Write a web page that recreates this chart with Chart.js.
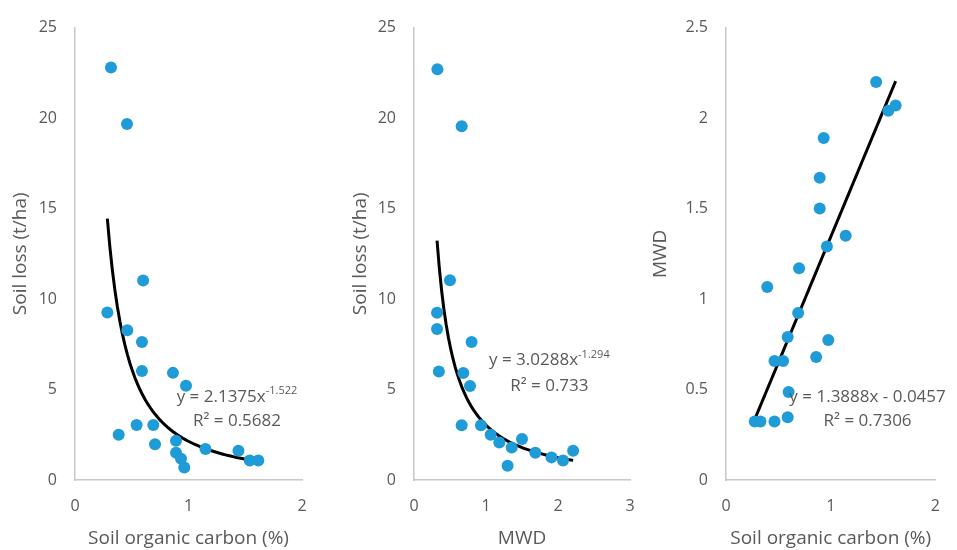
<!DOCTYPE html>
<html>
<head>
<meta charset="utf-8">
<script src="https://cdn.jsdelivr.net/npm/chart.js@4"></script>
<style>
  html, body { margin: 0; padding: 0; background: #fff; }
  #wrap { position: relative; width: 957px; height: 550px; overflow: hidden; }
  #wrap canvas { position: absolute; left: 0; top: 0; }
</style>
</head>
<body>
<div id="wrap">
  <canvas id="c1" width="957" height="550"></canvas>
  <canvas id="c2" width="957" height="550"></canvas>
  <canvas id="c3" width="957" height="550"></canvas>
</div>
<script>
// Panel 1: soil organic carbon (%) vs soil loss (t/ha)
const socX = [0.317, 0.458, 0.60, 0.285, 0.461, 0.59, 0.59, 0.863, 0.978, 0.543, 0.69,
  0.385, 0.705, 0.89, 0.89, 0.934, 0.963, 1.15, 1.44, 1.54, 1.615];
const soilLossA = [22.8, 19.67, 11.02, 9.25, 8.27, 7.63, 6.02, 5.92, 5.21, 3.04, 3.04,
  2.5, 1.98, 2.17, 1.5, 1.17, 0.69, 1.71, 1.62, 1.08, 1.08];

// Panel 2: MWD vs soil loss (t/ha)
const mwdX = [0.325, 0.662, 0.5, 0.32, 0.32, 0.80, 0.345, 0.685, 0.778, 0.662, 0.93,
  1.065, 1.185, 1.357, 1.5, 1.685, 1.91, 2.07, 2.21, 1.30];
const soilLossB = [22.7, 19.55, 11.04, 9.24, 8.35, 7.62, 6.0, 5.91, 5.2, 3.03, 3.03,
  2.5, 2.07, 1.79, 2.27, 1.5, 1.25, 1.08, 1.61, 0.79];

// Panel 3: soil organic carbon (%) vs MWD
const socX3 = [1.434, 1.55, 1.62, 0.933, 0.895, 0.895, 1.143, 0.964, 0.698, 0.394, 0.689,
  0.589, 0.977, 0.861, 0.463, 0.545, 0.598, 0.275, 0.329, 0.463, 0.589];
const mwdY = [2.20, 2.04, 2.07, 1.89, 1.67, 1.50, 1.35, 1.29, 1.17, 1.066, 0.923,
  0.79, 0.774, 0.68, 0.658, 0.658, 0.486, 0.323, 0.323, 0.323, 0.347];

// Trendline coefficients as printed on the chart
const fitA = { a: 2.1375, b: -1.522, eq: 'y = 2.1375x', sup: '-1.522', r2: 'R\u00b2 = 0.5682' };
const fitB = { a: 3.0288, b: -1.294, eq: 'y = 3.0288x', sup: '-1.294', r2: 'R\u00b2 = 0.733' };
const fitC = { a: 1.3888, b: -0.0457, eq: 'y = 1.3888x - 0.0457', sup: '', r2: 'R\u00b2 = 0.7306' };

const GREY = '#595959';
const BLUE = '#1f9bd7';
const FONT = "'Open Sans', sans-serif";

function pts(xs, ys) {
  return xs.map((x, i) => ({ x, y: ys[i] }));
}

// sample the fitted curve between the smallest and largest x
function trend(xs, f) {
  const lo = Math.min(...xs), hi = Math.max(...xs);
  const out = [];
  for (let i = 0; i <= 60; i++) {
    const x = lo + (hi - lo) * i / 60;
    out.push({ x, y: f(x) });
  }
  return out;
}

// draws the trendline label on top of the points
const labelPlugin = {
  id: 'fitLabel',
  afterDatasetsDraw(chart, args, opts) {
    const { ctx, scales } = chart;
    const cx = scales.x.getPixelForValue(opts.x);
    const y1 = scales.y.getPixelForValue(opts.y1);
    const y2 = scales.y.getPixelForValue(opts.y2);
    ctx.save();
    ctx.fillStyle = GREY;
    ctx.textBaseline = 'middle';
    ctx.font = '17px ' + FONT;
    const w1 = ctx.measureText(opts.fit.eq).width;
    ctx.font = '11px ' + FONT;
    const w2 = opts.fit.sup ? ctx.measureText(opts.fit.sup).width : 0;
    const left = cx - (w1 + w2) / 2;
    ctx.textAlign = 'left';
    ctx.font = '17px ' + FONT;
    ctx.fillText(opts.fit.eq, left, y1);
    if (opts.fit.sup) {
      ctx.font = '11px ' + FONT;
      ctx.fillText(opts.fit.sup, left + w1, y1 - 6);
    }
    ctx.font = '17px ' + FONT;
    ctx.textAlign = 'center';
    ctx.fillText(opts.fit.r2, cx, y2);
    ctx.restore();
  }
};

function makeChart(id, cfg) {
  return new Chart(document.getElementById(id), {
    type: 'scatter',
    data: {
      datasets: [
        {
          data: cfg.points,
          backgroundColor: BLUE,
          borderColor: BLUE,
          pointRadius: 6,
          pointHoverRadius: 6,
          borderWidth: 0
        },
        {
          type: 'line',
          data: cfg.line,
          borderColor: '#000',
          borderWidth: 3,
          pointRadius: 0,
          fill: false,
          tension: 0
        }
      ]
    },
    options: {
      responsive: false,
      animation: false,
      events: [],
      layout: { padding: { left: cfg.padLeft, right: cfg.padRight, top: 24, bottom: 0 } },
      plugins: {
        legend: { display: false },
        tooltip: { enabled: false },
        fitLabel: cfg.label
      },
      scales: {
        x: {
          type: 'linear',
          min: 0, max: cfg.xMax,
          afterFit: (s) => { s.height = 70; },
          grid: { display: true, drawOnChartArea: false, drawTicks: false },
          border: { display: true, color: '#c8c8c8', width: 1.5 },
          ticks: { stepSize: 1, padding: 17, color: GREY, font: { family: FONT, size: 16 } },
          title: { display: true, text: cfg.xTitle, color: GREY, padding: 0, font: { family: FONT, size: 19 } }
        },
        y: {
          min: 0, max: cfg.yMax,
          afterFit: (s) => { s.width = cfg.yWidth; },
          grid: { display: true, drawOnChartArea: false, drawTicks: false },
          border: { display: true, color: '#c8c8c8', width: 1.5 },
          ticks: {
            stepSize: cfg.yStep, padding: 18, color: GREY, font: { family: FONT, size: 16 },
            callback: (v) => String(Math.round(v * 10) / 10)
          },
          title: { display: true, text: cfg.yTitle, color: GREY, padding: 0, font: { family: FONT, size: 19 } }
        }
      }
    },
    plugins: [labelPlugin]
  });
}

makeChart('c1', {
  points: pts(socX, soilLossA),
  line: trend(socX, (x) => fitA.a * Math.pow(x, fitA.b)),
  padLeft: 9, yWidth: 66, padRight: 655,
  xMax: 2, yMax: 25, yStep: 5,
  xTitle: 'Soil organic carbon (%)', yTitle: 'Soil loss (t/ha)',
  label: { fit: fitA, x: 1.427, y1: 4.6, y2: 3.23 }
});

makeChart('c2', {
  points: pts(mwdX, soilLossB),
  line: trend(mwdX, (x) => fitB.a * Math.pow(x, fitB.b)),
  padLeft: 349, yWidth: 65, padRight: 327,
  xMax: 3, yMax: 25, yStep: 5,
  xTitle: 'MWD', yTitle: 'Soil loss (t/ha)',
  label: { fit: fitB, x: 1.88, y1: 6.6, y2: 5.2 }
});

makeChart('c3', {
  points: pts(socX3, mwdY),
  line: trend(socX3, (x) => fitC.a * x + fitC.b),
  padLeft: 649, yWidth: 77, padRight: 18,
  xMax: 2, yMax: 2.5, yStep: 0.5,
  xTitle: 'Soil organic carbon (%)', yTitle: 'MWD',
  label: { fit: fitC, x: 1.352, y1: 0.46, y2: 0.323 }
});
</script>
</body>
</html>
